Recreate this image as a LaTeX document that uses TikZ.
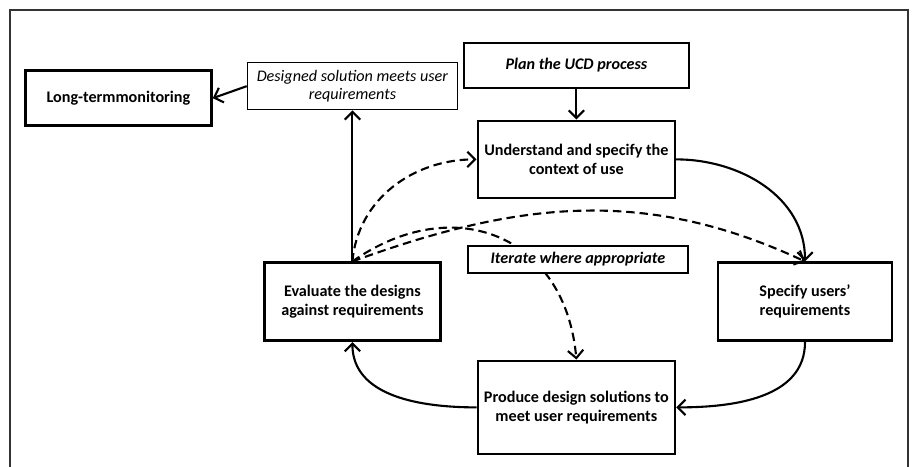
\documentclass[tikz,border=0pt]{standalone}
\usepackage{fontspec}
\setmainfont{Carlito}
\usepackage{tikz}
\usetikzlibrary{arrows.meta,positioning,backgrounds}
\tikzstyle{stage} = [rectangle, draw=black, line width=1.9pt, fill=white, align=center, font=\fontsize{11.5}{13.5}\selectfont\bfseries, inner sep=0pt]
\tikzstyle{note} = [rectangle, draw=black, line width=1.6pt, fill=white, align=center, font=\fontsize{11.5}{13.5}\selectfont\bfseries\itshape, inner sep=0pt]
\tikzstyle{arrow} = [line width=1.5pt, -{Straight Barb[length=5.5pt,width=11pt,line width=1.5pt]}]
\tikzstyle{dasharrow} = [arrow, dash pattern=on 6pt off 3.5pt]

\begin{document}
\begin{tikzpicture}[node distance=2cm]

\useasboundingbox (0,0) rectangle (22.8,11.675);
\draw [line width=0.8pt, black!80] (0.25,0) -- (0.25,11.425) -- (22.7,11.425) -- (22.7,0);

% Nodes
\node (und) [stage, minimum width=4.925cm, minimum height=1.925cm] at (14.41,7.69) {Understand and specify the\\context of use};
\node (plan) [note, line width=1.9pt, minimum width=5.625cm, minimum height=1.125cm, above of=und, yshift=0.35cm] {Plan the UCD process};
\node (iter) [note, minimum width=5.5cm, minimum height=0.675cm, below of=und, xshift=0.04cm, yshift=-0.5cm] {Iterate where appropriate};
\node (prod) [stage, minimum width=4.925cm, minimum height=2.325cm, below of=und, yshift=-4.2cm] {Produce design solutions to\\meet user requirements};
\node (spec) [stage, minimum width=4.35cm, minimum height=1.95cm, right of=iter, xshift=3.675cm, yshift=-1.06cm] {Specify users'\\requirements};
\node (eval) [stage, minimum width=4.4cm, minimum height=1.95cm, left of=iter, xshift=-3.64cm, yshift=-1.06cm] {Evaluate the designs\\against requirements};
\node (des) [note, line width=1pt, font=\fontsize{11.5}{13.5}\selectfont\itshape, minimum width=5.25cm, minimum height=1.175cm, above of=eval, yshift=3.39cm] {Designed solution meets user\\requirements};
\node (lt) [stage, minimum width=4.65cm, minimum height=1.375cm, left of=des, xshift=-3.85cm, yshift=-0.3cm] {Long-termmonitoring};

% Arrows
\draw [arrow] (plan) -- (und);
\draw [arrow] (und.east) to[out=0, in=90] (spec.north);
\draw [arrow] (spec.south) to[out=-90, in=0] (prod.east);
\draw [arrow] (prod.west) to[out=180, in=-90] (eval.south);
\draw [arrow] (eval.north) -- (des.south);
\draw [arrow] (des.west) -- (lt.east);
\draw [dasharrow] (eval.north) to[out=85, in=180] (und.west);
\draw [dasharrow] (eval.north) to[out=20, in=155] (spec.north);
\begin{pgfonlayer}{background}
\draw [dasharrow] (eval.north) to[out=35, in=95, looseness=1.3] (prod.north);
\end{pgfonlayer}

\end{tikzpicture}
\end{document}
